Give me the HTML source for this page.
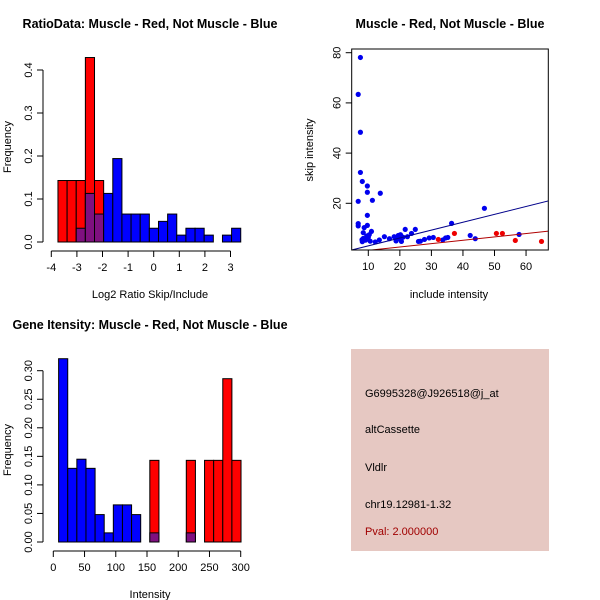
<!DOCTYPE html>
<html><head><meta charset="utf-8"><style>
body{margin:0;background:#fff}
svg{display:block;font-family:"Liberation Sans",Arial,sans-serif}
</style></head><body>
<svg id="s" width="600" height="600" xmlns="http://www.w3.org/2000/svg">
<rect x="0" y="0" width="600" height="600" fill="#fff"/>
<g>
<rect x="351" y="349" width="198" height="202" fill="#e6c8c2"/>
<text x="365" y="397" font-size="11">G6995328@J926518@j_at</text>
<text x="365" y="433" font-size="11">altCassette</text>
<text x="365" y="471" font-size="11">Vldlr</text>
<text x="365" y="508" font-size="11">chr19.12981-1.32</text>
<text x="365" y="535" font-size="11" fill="#a00000">Pval: 2.000000</text>
</g>
</svg>
<script>
// Histogram 1 data
const h1Red=[0.143,0.143,0.143,0.429,0.143,0,0,0,0,0,0,0,0,0,0,0,0,0,0,0];
const h1Blue=[0,0,0.032,0.113,0.065,0.113,0.194,0.065,0.065,0.065,0.032,0.048,0.065,0.016,0.032,0.032,0.016,0,0.016,0.032];
const h1Start=-3.74, h1Width=0.357;
const h1XTicks=[-4,-3,-2,-1,0,1,2,3];
const h1YTicks=["0.0","0.1","0.2","0.3","0.4"];
// Histogram 3 data
const h3Blue=[0.321,0.129,0.145,0.129,0.048,0.016,0.065,0.065,0.048,0,0.016,0,0,0,0.016,0,0,0,0,0];
const h3Red=[0,0,0,0,0,0,0,0,0,0,0.143,0,0,0,0.143,0,0.143,0.143,0.286,0.143];
const h3Start=8.5, h3Width=14.6;
const h3XTicks=[0,50,100,150,200,250,300];
const h3YTicks=["0.00","0.05","0.10","0.15","0.20","0.25","0.30"];
// Scatter data
const blueX=[7.5,6.8,7.5,7.5,8.1,9.7,9.7,13.8,6.8,11.3,9.7,6.8,6.8,9.7,8.7,8.4,11.0,8.4,8.1,9.1,10.0,10.3,10.6,8.0,9.5,12.2,13.5,15.1,16.7,18.2,18.8,19.5,20.0,20.5,21.0,19.0,20.2,21.7,22.4,23.7,24.9,25.9,26.5,27.8,29.3,30.6,33.6,34.5,35.2,36.4,42.3,43.9,46.8,57.8];
const blueY=[78.1,63.4,48.3,32.3,28.7,26.9,24.4,24.0,20.8,21.2,15.2,11.9,11.0,11.2,10.3,8.3,8.8,6.0,4.7,5.3,6.4,7.5,4.9,5.5,7.0,4.6,5.4,6.7,5.9,6.7,5.0,7.2,6.0,4.8,6.5,5.6,7.5,9.6,6.7,8.0,9.6,4.8,4.9,5.6,6.2,6.4,5.4,6.2,6.4,12.0,7.2,5.9,18.0,7.6];
const redX=[32.2,37.3,50.6,52.5,56.6,64.9];
const redY=[5.6,8.0,8.0,8.0,5.2,4.8];
const blueFit=[-0.1,0.314], redFit=[-0.1,0.134];
const scXTicks=[10,20,30,40,50,60];
const scYTicks=[20,40,60,80];

const S=document.getElementById('s'),NS='http://www.w3.org/2000/svg';
function mk(t,a,p,txt){const e=document.createElementNS(NS,t);for(const k in a)e.setAttribute(k,a[k]);if(txt!==undefined)e.textContent=txt;(p||S).appendChild(e);return e;}
function grp(name){const g=mk('g',{});return g;}
function txt(g,x,y,s,name,extra){const e=mk('text',Object.assign({x:x,y:y,'font-size':11,'text-anchor':'middle'},extra||{}),g,s);return e;}
function line(g,x1,y1,x2,y2,name,st){const e=mk('line',{x1,y1,x2,y2,stroke:st||'#000','stroke-width':1},g);return e;}
function rect(g,x,y,w,h,f,name){const e=mk('rect',{x,y,width:w,height:h,fill:f,stroke:'#000','stroke-width':1},g);return e;}

function hist(o){
  const g=grp(o.name);
  const bars=grp(o.name+'-bars');g.appendChild(bars);
  for(let i=0;i<o.red.length;i++){
    const x0=o.sx(o.start+i*o.w),x1=o.sx(o.start+(i+1)*o.w);
    const r=o.red[i],b=o.blue[i],m=Math.min(r,b);
    if(r>0)rect(bars,x0,o.sy(r),x1-x0,o.sy(0)-o.sy(r),'#ff0000','red-bar');
    if(b>r)rect(bars,x0,o.sy(b),x1-x0,o.sy(0)-o.sy(b),'#0000ff','blue-bar');
    if(m>0)rect(bars,x0,o.sy(m),x1-x0,o.sy(0)-o.sy(m),'#7f1080','overlap-bar');
  }
  const xa=grp('x-axis');g.appendChild(xa);
  line(xa,o.sx(o.xt[0]),o.axY,o.sx(o.xt[o.xt.length-1]),o.axY,'x-axis-line');
  o.xt.forEach(t=>{line(xa,o.sx(t),o.axY,o.sx(t),o.axY+6,'x-tick');txt(xa,o.sx(t),o.axY+20,String(t),'x-tick-label');});
  const ya=grp('y-axis');g.appendChild(ya);
  const yv=o.yt.map(Number);
  line(ya,o.axX,o.sy(yv[0]),o.axX,o.sy(yv[yv.length-1]),'y-axis-line');
  o.yt.forEach(t=>{const y=o.sy(Number(t));line(ya,o.axX,y,o.axX-6,y,'y-tick');txt(ya,o.axX-11,y,t,'y-tick-label',{transform:`rotate(-90 ${o.axX-11} ${y})`});});
  txt(g,o.tx,o.ty,o.title,'chart-title',{'font-weight':'bold','font-size':12.5});
  txt(g,150,o.xly,o.xl,'x-axis-title');
  txt(g,11,o.yly,'Frequency','y-axis-title',{transform:`rotate(-90 11 ${o.yly})`});
}
hist({name:'ratio-histogram',red:h1Red,blue:h1Blue,start:h1Start,w:h1Width,
  sx:v=>51.3+(v+4)*25.6,sy:v=>242-v*430,xt:h1XTicks,yt:h1YTicks,axY:251,axX:43,
  title:'RatioData: Muscle - Red, Not Muscle - Blue',tx:150,ty:28,xl:'Log2 Ratio Skip/Include',xly:298,yly:147});
hist({name:'intensity-histogram',red:h3Red,blue:h3Blue,start:h3Start,w:h3Width,
  sx:v=>53.3+v*0.6247,sy:v=>542-v*571,xt:h3XTicks,yt:h3YTicks,axY:551,axX:43,
  title:'Gene Itensity: Muscle - Red, Not Muscle - Blue',tx:150,ty:329,xl:'Intensity',xly:598,yly:450});

// scatter
(function(){
  const g=grp('scatter-plot');
  const sx=v=>368.3+(v-10)*3.155, sy=v=>253.5-v*2.51;
  const L=351.7,R=548.3,T=49,B=250;
  mk('clipPath',{id:'cp'},g).appendChild(document.createElementNS(NS,'rect'));
  const cr=g.querySelector('#cp rect');cr.setAttribute('x',L);cr.setAttribute('y',T);cr.setAttribute('width',R-L);cr.setAttribute('height',B-T);
  const pts=grp('points');g.appendChild(pts);
  blueX.forEach((x,i)=>{const c=mk('circle',{cx:sx(x),cy:sy(blueY[i]),r:2.6,fill:'#0000ee'},pts);});
  redX.forEach((x,i)=>{const c=mk('circle',{cx:sx(x),cy:sy(redY[i]),r:2.6,fill:'#ee0000'},pts);});
  const fits=grp('fit-lines');fits.setAttribute('clip-path','url(#cp)');g.appendChild(fits);
  [[blueFit,'#00008b','blue-fit-line'],[redFit,'#b00000','red-fit-line']].forEach(([f,c,n])=>{
    line(fits,sx(0),sy(f[0]),sx(80),sy(f[0]+f[1]*80),n,c);});
  const box=mk('rect',{x:L,y:T,width:R-L,height:B-T,fill:'none',stroke:'#000'},g);
  
  const xa=grp('x-axis');g.appendChild(xa);
  scXTicks.forEach(t=>{line(xa,sx(t),B,sx(t),B+6,'x-tick');txt(xa,sx(t),B+20,String(t),'x-tick-label');});
  const ya=grp('y-axis');g.appendChild(ya);
  scYTicks.forEach(t=>{const y=sy(t);line(ya,L,y,L-6,y,'y-tick');txt(ya,L-11,y,String(t),'y-tick-label',{transform:`rotate(-90 ${L-11} ${y})`});});
  txt(g,450,28,'Muscle - Red, Not Muscle - Blue','chart-title',{'font-weight':'bold','font-size':12.5});
  txt(g,449,298,'include intensity','x-axis-title');
  txt(g,313,150,'skip intensity','y-axis-title',{transform:'rotate(-90 313 150)'});
})();
</script>
</body></html>
